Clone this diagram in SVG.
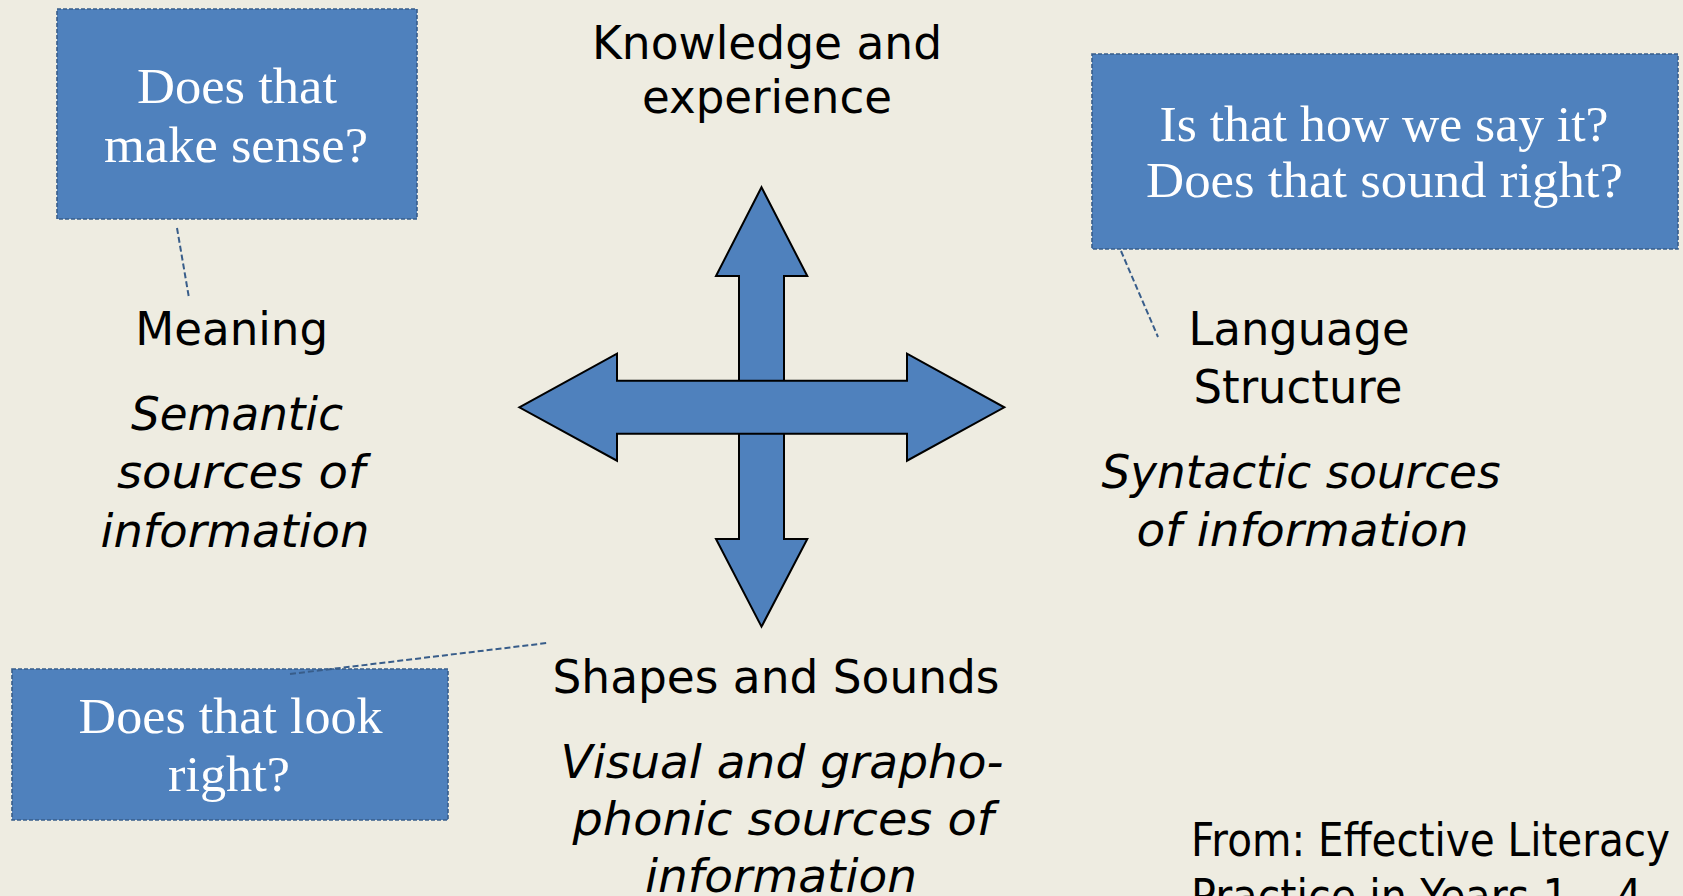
<svg xmlns="http://www.w3.org/2000/svg" width="1683" height="896" viewBox="0 0 1683 896">
<style>
.bg{fill:#EEECE1}
.box{fill:#4F81BD;stroke:#385D8A;stroke-width:1.6;stroke-dasharray:4 2}
.q{font-family:"Liberation Serif","DejaVu Serif",serif;font-size:50px;fill:#FFFFFF;text-anchor:middle}
.t{font-family:"DejaVu Sans","Noto Sans",sans-serif;font-size:47px;fill:#000000;text-anchor:middle}
.i{font-style:italic}
.st{text-anchor:start}
.call{fill:none;stroke:#385D8A;stroke-width:2;stroke-dasharray:6 3}
.arrow{fill:#4F81BD;stroke:#000000;stroke-width:2;stroke-linejoin:miter}
</style>
<rect class="bg" x="0" y="0" width="1683" height="896"/>

<g id="cross">
<polygon class="arrow" points="761.5,187.3 807.3,276 784,276 784,539 807.3,539 761.5,626.7 716,539 739,539 739,276 716,276"/>
<polygon class="arrow" points="519.3,407.3 617,353.7 617,380.7 907,380.7 907,353.7 1004.3,407.3 907,460.7 907,433.7 617,433.7 617,460.7"/>
</g>

<g id="box-make-sense">
<rect class="box" x="57" y="9" width="360" height="210"/>
<text class="q" x="237" y="103" textLength="200" lengthAdjust="spacingAndGlyphs">Does that</text>
<text class="q" x="236" y="162" textLength="264" lengthAdjust="spacingAndGlyphs">make sense?</text>
</g>

<g id="box-sound-right">
<rect class="box" x="1092" y="54" width="586" height="195"/>
<text class="q" x="1384" y="141" textLength="449" lengthAdjust="spacingAndGlyphs">Is that how we say it?</text>
<text class="q" x="1384.5" y="197" textLength="477" lengthAdjust="spacingAndGlyphs">Does that sound right?</text>
</g>

<g id="box-look-right">
<rect class="box" x="12" y="669" width="436" height="151"/>
<text class="q" x="230.6" y="733" textLength="304" lengthAdjust="spacingAndGlyphs">Does that look</text>
<text class="q" x="229" y="791" textLength="122" lengthAdjust="spacingAndGlyphs">right?</text>
</g>

<g id="label-knowledge">
<text class="t" x="767" y="59" textLength="350" lengthAdjust="spacingAndGlyphs">Knowledge and</text>
<text class="t" x="767" y="113" textLength="250" lengthAdjust="spacingAndGlyphs">experience</text>
</g>

<g id="label-meaning">
<text class="t" x="231.7" y="345" textLength="193" lengthAdjust="spacingAndGlyphs">Meaning</text>
<text class="t i" x="237" y="430" textLength="212" lengthAdjust="spacingAndGlyphs">Semantic</text>
<text class="t i" x="241" y="488" textLength="248" lengthAdjust="spacingAndGlyphs">sources of</text>
<text class="t i" x="235" y="547" textLength="269" lengthAdjust="spacingAndGlyphs">information</text>
</g>

<g id="label-language">
<text class="t" x="1299" y="345" textLength="221" lengthAdjust="spacingAndGlyphs">Language</text>
<text class="t" x="1298" y="403" textLength="209" lengthAdjust="spacingAndGlyphs">Structure</text>
<text class="t i" x="1301" y="488" textLength="399" lengthAdjust="spacingAndGlyphs">Syntactic sources</text>
<text class="t i" x="1302.5" y="546" textLength="332" lengthAdjust="spacingAndGlyphs">of information</text>
</g>

<g id="label-shapes">
<text class="t" x="776" y="693" textLength="447" lengthAdjust="spacingAndGlyphs">Shapes and Sounds</text>
<text class="t i" x="782" y="778" textLength="443" lengthAdjust="spacingAndGlyphs">Visual and grapho-</text>
<text class="t i" x="783" y="835" textLength="421" lengthAdjust="spacingAndGlyphs">phonic sources of</text>
<text class="t i" x="781" y="892" textLength="272" lengthAdjust="spacingAndGlyphs">information</text>
</g>

<g id="label-source">
<text class="t st" x="1191" y="856" textLength="479" lengthAdjust="spacingAndGlyphs">From: Effective Literacy</text>
<text class="t st" x="1191" y="912" textLength="451" lengthAdjust="spacingAndGlyphs">Practice in Years 1 – 4</text>
</g>

<g id="connectors">
<line class="call" x1="177" y1="228" x2="189" y2="298"/>
<line class="call" x1="1121" y1="251" x2="1158" y2="337"/>
<line class="call" x1="290" y1="674" x2="547" y2="643"/>
</g>
</svg>
